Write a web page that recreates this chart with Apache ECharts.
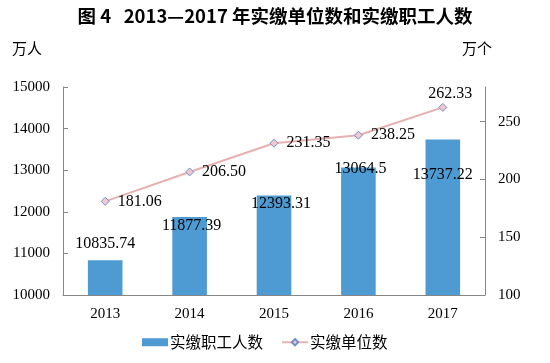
<!DOCTYPE html>
<html><head><meta charset="utf-8">
<script src="https://cdn.jsdelivr.net/npm/echarts@6/dist/echarts.min.js"></script>
<style>html,body{margin:0;padding:0;background:#fff}#c{width:550px;height:363px}</style>
</head><body><div id="c"></div>
<script>
const years = ['2013','2014','2015','2016','2017'];
const workers = [10835.74, 11877.39, 12393.31, 13064.5, 13737.22];
const workerLabels = ['10835.74','11877.39','12393.31','13064.5','13737.22'];
const units = [181.06, 206.50, 231.35, 238.25, 262.33];
const unitLabels = ['181.06','206.50','231.35','238.25','262.33'];
const leftTicks = [10000, 15000, 1000];
const rightTicks = [100, 280, 50];

const barLabelOffsets = [[0,-3],[2,22],[7,21],[2,14],[0,48]];
const serif = 'Liberation Serif';
const cjk = 'Noto Sans CJK SC';

const chart = echarts.init(document.getElementById('c'));
chart.setOption({
  animation:false,
  title:{text:'图 4   2013—2017 年实缴单位数和实缴职工人数',left:'center',top:2,
    textStyle:{fontFamily:cjk,fontSize:18.5,fontWeight:'bold',color:'#000'}},
  graphic:[
    {type:'text',left:12,top:41,style:{text:'万人',font:'15px "Noto Sans CJK SC"',fill:'#000'}},
    {type:'text',left:462,top:41,style:{text:'万个',font:'15px "Noto Sans CJK SC"',fill:'#000'}}
  ],
  legend:{bottom:8,left:137,itemGap:18,itemWidth:26,itemHeight:8,
    textStyle:{fontFamily:cjk,fontSize:15.5,color:'#000',padding:[0,0,0,-3]},
    data:[{name:'实缴职工人数',icon:'rect'},{name:'实缴单位数'}]},
  grid:{left:63,right:65,top:87,bottom:68},
  xAxis:{type:'category',data:years,
    axisLine:{lineStyle:{color:'#868686'}},
    axisTick:{inside:true,length:4,lineStyle:{color:'#868686'}},
    axisLabel:{fontFamily:serif,fontSize:15,color:'#000',margin:12}},
  yAxis:[
    {type:'value',min:leftTicks[0],max:leftTicks[1],interval:leftTicks[2],
      axisLine:{show:true,lineStyle:{color:'#868686'}},
      axisTick:{show:true,inside:true,length:5,lineStyle:{color:'#868686'}},
      splitLine:{show:false},
      axisLabel:{fontFamily:serif,fontSize:15,color:'#000',margin:13,formatter:v=>String(v)}},
    {type:'value',min:rightTicks[0],max:rightTicks[1],interval:rightTicks[2],
      axisLine:{show:true,lineStyle:{color:'#868686'}},
      axisTick:{show:true,inside:true,length:5,lineStyle:{color:'#868686'}},
      splitLine:{show:false},
      axisLabel:{fontFamily:serif,fontSize:15,color:'#000',margin:13,
        showMaxLabel:false,formatter:v=>String(v)}}
  ],
  series:[
    {name:'实缴职工人数',type:'bar',yAxisIndex:0,barWidth:'41%',
      itemStyle:{color:'#4E9BD4'},
      data:workers.map((v,i)=>({value:v,label:{offset:barLabelOffsets[i]}})),
      label:{show:true,position:'top',distance:5,fontFamily:serif,fontSize:16,color:'#000',
        formatter:p=>workerLabels[p.dataIndex]}},
    {name:'实缴单位数',type:'line',yAxisIndex:1,data:units,
      symbol:'diamond',symbolSize:8,
      lineStyle:{color:'#E8B0B0',width:2},
      itemStyle:{color:'#F0C8D0',borderColor:'#6F8FC8',borderWidth:1},
      label:{show:true,position:'right',distance:8,fontFamily:serif,fontSize:16,color:'#000',
        formatter:p=>unitLabels[p.dataIndex]},
      labelLayout:function(p){
        if(p.dataIndex===4){return {x:p.rect.x-10,y:p.rect.y-17,dx:0};}
        return {};
      }}
  ]
});
</script></body></html>
